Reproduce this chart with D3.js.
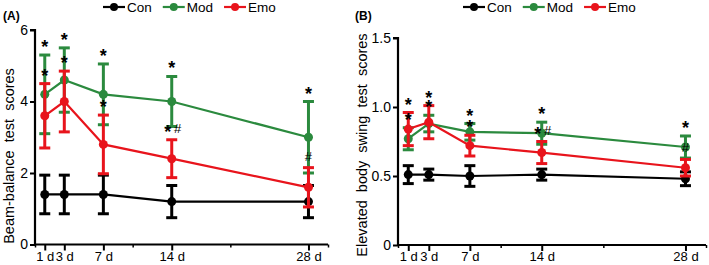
<!DOCTYPE html>
<html><head><meta charset="utf-8">
<script src="https://cdn.jsdelivr.net/npm/d3@7"></script>
<style>
html,body{margin:0;padding:0;background:#fff;}
svg{display:block;font-family:Arial,"Liberation Sans",sans-serif;}
</style></head>
<body><svg id="c" width="709" height="265"></svg>
<script>
// ---- data ----
const days = [1, 3, 7, 14, 28];
const dayLabels = ["1 d", "3 d", "7 d", "14 d", "28 d"];
const seriesNames = ["Con", "Mod", "Emo"];
const seriesColors = ["#000000", "#2b8a3e", "#e8141c"];

// Panel A: Beam-balance test scores
const conA = [1.4, 1.4, 1.4, 1.2, 1.2];
const conAErr = [0.54, 0.54, 0.54, 0.45, 0.45];
const modA = [4.2, 4.6, 4.2, 4.0, 3.0];
const modAErr = [1.1, 0.9, 0.85, 0.7, 1.0];
const emoA = [3.6, 4.0, 2.8, 2.4, 1.6];
const emoAErr = [0.9, 0.85, 0.82, 0.53, 0.55];
const yTicksA = [0, 2, 4, 6];
const modMarksA = ["*", "*", "*", "*", "*"];
const emoMarksA = ["*", "*", "*", "*#", "#"];

// Panel B: Elevated body swing test scores
const conB = [0.51, 0.51, 0.50, 0.51, 0.48];
const conBErr = [0.065, 0.04, 0.075, 0.04, 0.05];
const modB = [0.77, 0.88, 0.82, 0.81, 0.71];
const modBErr = [0.08, 0.06, 0.06, 0.08, 0.08];
const emoB = [0.84, 0.89, 0.72, 0.67, 0.56];
const emoBErr = [0.12, 0.12, 0.075, 0.08, 0.06];
const yTicksB = [0, 0.5, 1.0, 1.5];
const modMarksB = ["*", "*", "*", "*", "*"];
const emoMarksB = ["*", "*", "*", "*#", "#"];

const svg = d3.select("#c");

function drawPanel(o) {
  const g = svg.append("g");
  const x = d3.scaleLinear().domain([0, 30]).range([o.x0, o.x1]);
  const y = d3.scaleLinear().domain([0, o.yMax]).range([o.y0, o.y1]);

  // axes
  const yAxis = d3.axisLeft(y).tickValues(o.yTicks).tickSize(5).tickPadding(2)
    .tickFormat(o.fmt);
  const ga = g.append("g").attr("transform", `translate(${o.x0},0)`).call(yAxis);
  ga.select(".domain").attr("stroke-width", 2.2).attr("d", `M-5,${o.y1}H0V${o.y0}`);
  ga.selectAll(".tick line").attr("stroke-width", 2);
  ga.selectAll("text").attr("font-size", 14).attr("fill", "#000");

  const xMinor = d3.axisBottom(x).tickValues([0, 10, 20, 30]).tickSize(3).tickFormat("");
  const gx0 = g.append("g").attr("transform", `translate(0,${o.y0})`).call(xMinor);
  gx0.select(".domain").attr("stroke-width", 2.2).attr("d", `M${o.x0},0H${o.x1}`);
  gx0.selectAll(".tick line").attr("stroke-width", 1.5);
  const xAxis = d3.axisBottom(x).tickValues(days).tickSize(6).tickPadding(1)
    .tickFormat((d, i) => dayLabels[i]);
  const gx = g.append("g").attr("transform", `translate(0,${o.y0})`).call(xAxis);
  gx.select(".domain").remove();
  gx.selectAll(".tick line").attr("stroke-width", 2);
  gx.selectAll("text").attr("font-size", 13).attr("fill", "#000");

  // series
  const sets = [[o.con, o.conErr], [o.mod, o.modErr], [o.emo, o.emoErr]];
  const line = d3.line().x((d, i) => x(days[i])).y(d => y(d));
  sets.forEach(([vals, errs], si) => {
    const col = seriesColors[si];
    const s = g.append("g");
    s.append("path").datum(vals).attr("d", line).attr("fill", "none")
      .attr("stroke", col).attr("stroke-width", 2.2);
    vals.forEach((v, i) => {
      const cx = x(days[i]);
      const top = y(v + errs[i]), bot = y(v - errs[i]);
      s.append("line").attr("x1", cx).attr("x2", cx).attr("y1", top).attr("y2", bot)
        .attr("stroke", col).attr("stroke-width", 3);
      [top, bot].forEach(yy => s.append("line").attr("x1", cx - 5.5).attr("x2", cx + 5.5)
        .attr("y1", yy).attr("y2", yy).attr("stroke", col).attr("stroke-width", 3));
      s.append("circle").attr("cx", cx).attr("cy", y(v)).attr("r", 4.5).attr("fill", col);
    });
  });

  // significance marks
  function marks(vals, errs, labels) {
    labels.forEach((lab, i) => {
      const cx = x(days[i]);
      const cap = y(vals[i] + errs[i]);
      if (lab === "*") {
        g.append("text").attr("x", cx).attr("y", cap - 2).attr("text-anchor", "middle")
          .attr("font-size", 18).attr("font-weight", "bold").text("*");
      } else if (lab === "#") {
        g.append("text").attr("x", cx).attr("y", cap - 7).attr("text-anchor", "middle")
          .attr("font-size", 13).text("#");
      } else {
        g.append("text").attr("x", cx - 4).attr("y", cap - 2).attr("text-anchor", "middle")
          .attr("font-size", 18).attr("font-weight", "bold").text("*");
        g.append("text").attr("x", cx + 6).attr("y", cap - 7).attr("text-anchor", "middle")
          .attr("font-size", 13).text("#");
      }
    });
  }
  marks(o.mod, o.modErr, o.modMarks);
  marks(o.emo, o.emoErr, o.emoMarks);

  // y title
  g.append("text").attr("transform", `translate(${o.titleX},${o.titleY}) rotate(-90)`)
    .attr("text-anchor", "middle").attr("font-size", 14.5).attr("xml:space", "preserve")
    .text(o.title);

  // panel label
  g.append("text").attr("x", o.labelX).attr("y", 20).attr("font-size", 12)
    .attr("font-weight", "bold").text(o.label);

  // legend
  const lg = g.append("g");
  let lx = o.legendX;
  seriesNames.forEach((nm, i) => {
    lg.append("line").attr("x1", lx).attr("x2", lx + 22).attr("y1", 7).attr("y2", 7)
      .attr("stroke", seriesColors[i]).attr("stroke-width", 2.2);
    lg.append("circle").attr("cx", lx + 11).attr("cy", 7).attr("r", 4).attr("fill", seriesColors[i]);
    const t = lg.append("text").attr("x", lx + 24).attr("y", 11.8).attr("font-size", 13.5).text(nm);
    lx += 24 + t.node().getComputedTextLength() + 11;
  });
}

drawPanel({
  x0: 35, x1: 328, y0: 244.5, y1: 30, yMax: 6, yTicks: yTicksA, fmt: d3.format("d"),
  con: conA, conErr: conAErr, mod: modA, modErr: modAErr, emo: emoA, emoErr: emoAErr,
  modMarks: modMarksA, emoMarks: emoMarksA,
  title: "Beam-balance  test  scores", titleX: 14, titleY: 156,
  label: "(A)", labelX: 3, legendX: 103
});
drawPanel({
  x0: 398, x1: 706, y0: 245, y1: 38, yMax: 1.5, yTicks: yTicksB,
  fmt: d => d === 0 ? "0" : d3.format(".1f")(d),
  con: conB, conErr: conBErr, mod: modB, modErr: modBErr, emo: emoB, emoErr: emoBErr,
  modMarks: modMarksB, emoMarks: emoMarksB,
  title: "Elevated  body  swing  test  scores", titleX: 367, titleY: 145,
  label: "(B)", labelX: 355, legendX: 463
});
</script></body></html>
